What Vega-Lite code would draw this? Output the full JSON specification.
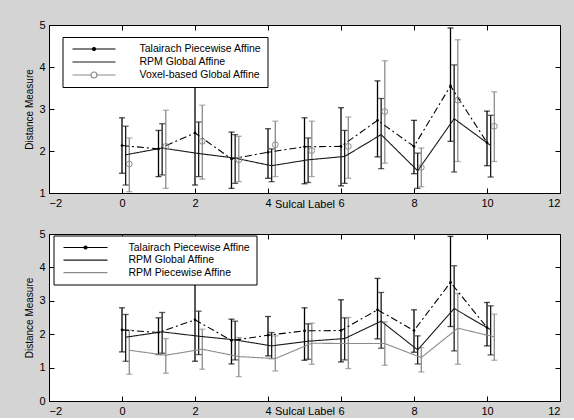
{
  "$schema": "https://vega.github.io/schema/vega-lite/v6.json",
  "background": "#d4d4d4",
  "padding": {"left": 24, "top": 18, "right": 13, "bottom": 1},
  "config": {
    "font": "Liberation Sans",
    "view": {"stroke": "black", "strokeWidth": 1, "fill": "white"},
    "axis": {"grid": false, "domainColor": "black", "tickColor": "black", "labelColor": "black", "titleColor": "black", "labelFontSize": 11, "titleFontSize": 11, "titleFontWeight": "normal", "tickSize": -5, "labelPadding": 9, "labelFont": "Liberation Sans", "titleFont": "Liberation Sans"},
    "legend": {"labelFont": "Liberation Sans", "labelColor": "black"}
  },
  "datasets": {
    "d": [
      {"series": "Talairach Piecewise Affine", "label": 0, "x": 0, "mean": 2.13, "lo": 1.47, "hi": 2.79},
      {"series": "Talairach Piecewise Affine", "label": 1, "x": 1, "mean": 2.05, "lo": 1.39, "hi": 2.49},
      {"series": "Talairach Piecewise Affine", "label": 2, "x": 2, "mean": 2.43, "lo": 1.19, "hi": 3.53},
      {"series": "Talairach Piecewise Affine", "label": 3, "x": 3, "mean": 1.81, "lo": 1.11, "hi": 2.45},
      {"series": "Talairach Piecewise Affine", "label": 4, "x": 4, "mean": 1.97, "lo": 1.35, "hi": 2.53},
      {"series": "Talairach Piecewise Affine", "label": 5, "x": 5, "mean": 2.10, "lo": 1.22, "hi": 2.79},
      {"series": "Talairach Piecewise Affine", "label": 6, "x": 6, "mean": 2.11, "lo": 1.17, "hi": 3.03},
      {"series": "Talairach Piecewise Affine", "label": 7, "x": 7, "mean": 2.73, "lo": 1.86, "hi": 3.67},
      {"series": "Talairach Piecewise Affine", "label": 8, "x": 8, "mean": 2.11, "lo": 1.46, "hi": 2.73},
      {"series": "Talairach Piecewise Affine", "label": 9, "x": 9, "mean": 3.55, "lo": 2.23, "hi": 4.93},
      {"series": "Talairach Piecewise Affine", "label": 10, "x": 10, "mean": 2.20, "lo": 1.65, "hi": 2.95},
      {"series": "RPM Global Affine", "label": 0, "x": 0.1, "mean": 1.91, "lo": 1.19, "hi": 2.59},
      {"series": "RPM Global Affine", "label": 1, "x": 1.1, "mean": 2.07, "lo": 1.43, "hi": 2.65},
      {"series": "RPM Global Affine", "label": 2, "x": 2.1, "mean": 1.94, "lo": 1.39, "hi": 2.69},
      {"series": "RPM Global Affine", "label": 3, "x": 3.1, "mean": 1.83, "lo": 1.23, "hi": 2.39},
      {"series": "RPM Global Affine", "label": 4, "x": 4.1, "mean": 1.65, "lo": 1.27, "hi": 2.05},
      {"series": "RPM Global Affine", "label": 5, "x": 5.1, "mean": 1.79, "lo": 1.25, "hi": 2.31},
      {"series": "RPM Global Affine", "label": 6, "x": 6.1, "mean": 1.87, "lo": 1.23, "hi": 2.49},
      {"series": "RPM Global Affine", "label": 7, "x": 7.1, "mean": 2.39, "lo": 1.58, "hi": 3.25},
      {"series": "RPM Global Affine", "label": 8, "x": 8.1, "mean": 1.53, "lo": 1.11, "hi": 1.95},
      {"series": "RPM Global Affine", "label": 9, "x": 9.1, "mean": 2.77, "lo": 1.50, "hi": 4.05},
      {"series": "RPM Global Affine", "label": 10, "x": 10.1, "mean": 2.13, "lo": 1.38, "hi": 2.85},
      {"series": "Voxel-based Global Affine", "label": 0, "x": 0.2, "mean": 1.69, "lo": 1.03, "hi": 2.31},
      {"series": "Voxel-based Global Affine", "label": 1, "x": 1.2, "mean": 2.11, "lo": 1.11, "hi": 2.97},
      {"series": "Voxel-based Global Affine", "label": 2, "x": 2.2, "mean": 2.23, "lo": 1.33, "hi": 3.09},
      {"series": "Voxel-based Global Affine", "label": 3, "x": 3.2, "mean": 1.79, "lo": 1.27, "hi": 2.35},
      {"series": "Voxel-based Global Affine", "label": 4, "x": 4.2, "mean": 2.15, "lo": 1.39, "hi": 2.71},
      {"series": "Voxel-based Global Affine", "label": 5, "x": 5.2, "mean": 2.01, "lo": 1.39, "hi": 2.71},
      {"series": "Voxel-based Global Affine", "label": 6, "x": 6.2, "mean": 2.11, "lo": 1.35, "hi": 2.81},
      {"series": "Voxel-based Global Affine", "label": 7, "x": 7.2, "mean": 2.94, "lo": 1.71, "hi": 4.15},
      {"series": "Voxel-based Global Affine", "label": 8, "x": 8.2, "mean": 1.61, "lo": 1.15, "hi": 2.07},
      {"series": "Voxel-based Global Affine", "label": 9, "x": 9.2, "mean": 3.21, "lo": 1.75, "hi": 4.65},
      {"series": "Voxel-based Global Affine", "label": 10, "x": 10.2, "mean": 2.59, "lo": 1.75, "hi": 3.41},
      {"series": "RPM Piecewise Affine", "label": 0, "x": 0.2, "mean": 1.52, "lo": 0.80, "hi": 2.12},
      {"series": "RPM Piecewise Affine", "label": 1, "x": 1.2, "mean": 1.37, "lo": 0.83, "hi": 1.87},
      {"series": "RPM Piecewise Affine", "label": 2, "x": 2.2, "mean": 1.55, "lo": 0.95, "hi": 2.15},
      {"series": "RPM Piecewise Affine", "label": 3, "x": 3.2, "mean": 1.33, "lo": 0.73, "hi": 1.90},
      {"series": "RPM Piecewise Affine", "label": 4, "x": 4.2, "mean": 1.27, "lo": 0.90, "hi": 1.95},
      {"series": "RPM Piecewise Affine", "label": 5, "x": 5.2, "mean": 1.73, "lo": 1.10, "hi": 2.33},
      {"series": "RPM Piecewise Affine", "label": 6, "x": 6.2, "mean": 1.72, "lo": 0.97, "hi": 2.50},
      {"series": "RPM Piecewise Affine", "label": 7, "x": 7.2, "mean": 1.72, "lo": 1.07, "hi": 2.37},
      {"series": "RPM Piecewise Affine", "label": 8, "x": 8.2, "mean": 1.30, "lo": 0.87, "hi": 1.60},
      {"series": "RPM Piecewise Affine", "label": 9, "x": 9.2, "mean": 2.18, "lo": 1.10, "hi": 3.22},
      {"series": "RPM Piecewise Affine", "label": 10, "x": 10.2, "mean": 1.92, "lo": 1.22, "hi": 2.60}
    ]
  },
  "data": {"name": "d"},
  "spacing": 17,
  "resolve": {"scale": {"color": "independent"}},
  "vconcat": [
    {
      "width": 511,
      "height": 168,
      "transform": [{"filter": "datum.series != 'RPM Piecewise Affine'"}],
      "layer": [
        {
          "mark": {"type": "rule", "strokeWidth": 1.3},
          "encoding": {
            "x": {"field": "x", "type": "quantitative", "scale": {"domain": [-2, 12], "nice": false, "zero": false}, "axis": {"orient": "bottom", "values": [-2, 0, 2, 4, 6, 8, 10, 12], "title": "Sulcal Label", "titleY": 11.5, "titleBaseline": "middle"}},
            "y": {"field": "lo", "type": "quantitative", "scale": {"domain": [1, 5], "nice": false, "zero": false}, "axis": {"orient": "left", "values": [1, 2, 3, 4, 5], "title": "Distance Measure", "titleFontSize": 10, "titlePadding": 4}},
            "y2": {"field": "hi"},
            "color": {
              "field": "series", "type": "nominal",
              "scale": {"domain": ["Talairach Piecewise Affine", "RPM Global Affine", "Voxel-based Global Affine"], "range": ["#000000", "#1a1a1a", "#8c8c8c"]},
              "legend": {
                "title": null, "orient": "none", "legendX": 13.5, "legendY": 12,
                "labelFontSize": 10.5, "strokeColor": "black", "fillColor": "white", "padding": 6,
                "symbolOffset": 3, "symbolSize": 100, "symbolStrokeWidth": 1.2, "labelOffset": 56, "rowPadding": 1.0, "labelLimit": 300,
                "encode": {"symbols": {"update": {
                  "shape": {"signal": "datum.value == 'Talairach Piecewise Affine' ? 'M-1,0H7.6M3.6,0A0.3,0.3,0,1,1,3.0,0A0.3,0.3,0,1,1,3.6,0' : datum.value == 'Voxel-based Global Affine' ? 'M-1,0H2.7M3.9,0H7.6M3.9,0A0.6,0.6,0,1,1,2.7,0A0.6,0.6,0,1,1,3.9,0' : 'M-1,0H7.6'"},
                  "fill": {"signal": "datum.value == 'Talairach Piecewise Affine' ? 'black' : 'transparent'"},
                  "fillOpacity": {"signal": "datum.value == 'Talairach Piecewise Affine' ? 1 : 0"}
                }}}
              }
            }
          }
        },
        {
          "mark": {"type": "tick", "orient": "horizontal", "size": 6, "thickness": 1.3},
          "encoding": {
            "x": {"field": "x", "type": "quantitative", "axis": {"orient": "top", "values": [-2, 0, 2, 4, 6, 8, 10, 12], "labels": false, "title": null, "domain": false}},
            "y": {"field": "lo", "type": "quantitative", "axis": {"orient": "right", "values": [1, 2, 3, 4, 5], "labels": false, "title": null, "domain": false}},
            "color": {"field": "series", "type": "nominal"}
          }
        },
        {
          "mark": {"type": "tick", "orient": "horizontal", "size": 6, "thickness": 1.3},
          "encoding": {
            "x": {"field": "x", "type": "quantitative", "axis": null},
            "y": {"field": "hi", "type": "quantitative", "axis": null},
            "color": {"field": "series", "type": "nominal"}
          }
        },
        {
          "transform": [{"filter": "datum.series != 'Voxel-based Global Affine'"}],
          "mark": {"type": "line", "strokeWidth": 1.1},
          "encoding": {
            "x": {"field": "x", "type": "quantitative", "axis": null},
            "y": {"field": "mean", "type": "quantitative", "axis": null},
            "color": {"field": "series", "type": "nominal"},
            "strokeDash": {"field": "series", "type": "nominal", "scale": {"domain": ["Talairach Piecewise Affine", "RPM Global Affine", "RPM Piecewise Affine"], "range": [[7, 3, 2, 3], [1, 0], [1, 0]]}, "legend": null}
          }
        },
        {
          "transform": [{"filter": "datum.series == 'Talairach Piecewise Affine'"}],
          "mark": {"type": "point", "filled": true, "size": 7, "color": "black", "opacity": 1},
          "encoding": {
            "x": {"field": "x", "type": "quantitative", "axis": null},
            "y": {"field": "mean", "type": "quantitative", "axis": null}
          }
        },
        {
          "transform": [{"filter": "datum.series == 'Voxel-based Global Affine'"}],
          "mark": {"type": "point", "filled": false, "size": 34, "color": "#8c8c8c", "strokeWidth": 1, "opacity": 1},
          "encoding": {
            "x": {"field": "x", "type": "quantitative", "axis": null},
            "y": {"field": "mean", "type": "quantitative", "axis": null}
          }
        }
      ]
    },
    {
      "width": 511,
      "height": 167,
      "transform": [{"filter": "datum.series != 'Voxel-based Global Affine'"}],
      "layer": [
        {
          "mark": {"type": "rule", "strokeWidth": 1.3},
          "encoding": {
            "x": {"field": "x", "type": "quantitative", "scale": {"domain": [-2, 12], "nice": false, "zero": false}, "axis": {"orient": "bottom", "values": [-2, 0, 2, 4, 6, 8, 10, 12], "title": "Sulcal Label", "titleY": 10.5, "titleBaseline": "middle"}},
            "y": {"field": "lo", "type": "quantitative", "scale": {"domain": [0, 5], "nice": false, "zero": false}, "axis": {"orient": "left", "values": [0, 1, 2, 3, 4, 5], "title": "Distance Measure", "titleFontSize": 10, "titlePadding": 4}},
            "y2": {"field": "hi"},
            "color": {
              "field": "series", "type": "nominal",
              "scale": {"domain": ["Talairach Piecewise Affine", "RPM Global Affine", "RPM Piecewise Affine"], "range": ["#000000", "#1a1a1a", "#8c8c8c"]},
              "legend": {
                "title": null, "orient": "none", "legendX": 4.5, "legendY": 1.5,
                "labelFontSize": 10.5, "strokeColor": "black", "fillColor": "white", "padding": 6,
                "symbolOffset": 3, "symbolSize": 100, "symbolStrokeWidth": 1.2, "labelOffset": 54, "rowPadding": 0.6, "labelLimit": 300,
                "encode": {"symbols": {"update": {
                  "shape": {"signal": "datum.value == 'Talairach Piecewise Affine' ? 'M-1,0H7.8M3.7,0A0.3,0.3,0,1,1,3.1,0A0.3,0.3,0,1,1,3.7,0' : 'M-1,0H7.8'"},
                  "fill": {"signal": "datum.value == 'Talairach Piecewise Affine' ? 'black' : 'transparent'"},
                  "fillOpacity": {"signal": "datum.value == 'Talairach Piecewise Affine' ? 1 : 0"}
                }}}
              }
            }
          }
        },
        {
          "mark": {"type": "tick", "orient": "horizontal", "size": 6, "thickness": 1.3},
          "encoding": {
            "x": {"field": "x", "type": "quantitative", "axis": {"orient": "top", "values": [-2, 0, 2, 4, 6, 8, 10, 12], "labels": false, "title": null, "domain": false}},
            "y": {"field": "lo", "type": "quantitative", "axis": {"orient": "right", "values": [0, 1, 2, 3, 4, 5], "labels": false, "title": null, "domain": false}},
            "color": {"field": "series", "type": "nominal"}
          }
        },
        {
          "mark": {"type": "tick", "orient": "horizontal", "size": 6, "thickness": 1.3},
          "encoding": {
            "x": {"field": "x", "type": "quantitative", "axis": null},
            "y": {"field": "hi", "type": "quantitative", "axis": null},
            "color": {"field": "series", "type": "nominal"}
          }
        },
        {
          "mark": {"type": "line", "strokeWidth": 1.1},
          "encoding": {
            "x": {"field": "x", "type": "quantitative", "axis": null},
            "y": {"field": "mean", "type": "quantitative", "axis": null},
            "color": {"field": "series", "type": "nominal"},
            "strokeDash": {"field": "series", "type": "nominal", "legend": null}
          }
        },
        {
          "transform": [{"filter": "datum.series == 'Talairach Piecewise Affine'"}],
          "mark": {"type": "point", "filled": true, "size": 7, "color": "black", "opacity": 1},
          "encoding": {
            "x": {"field": "x", "type": "quantitative", "axis": null},
            "y": {"field": "mean", "type": "quantitative", "axis": null}
          }
        }
      ]
    }
  ]
}
